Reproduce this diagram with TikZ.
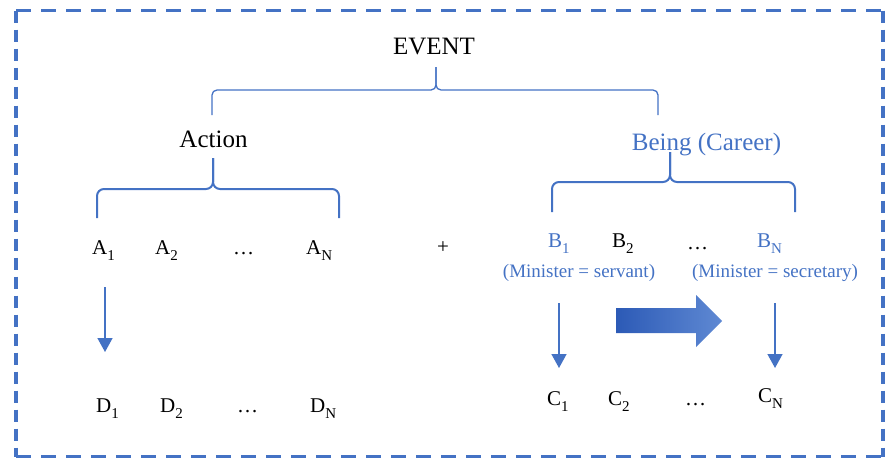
\documentclass[tikz,border=0pt]{standalone}
\usepackage{fontspec}
\setmainfont{Liberation Serif}
\usetikzlibrary{arrows.meta}
\definecolor{ob}{HTML}{4472C4}
\definecolor{bigl}{HTML}{2C5AB6}
\definecolor{bigr}{HTML}{5F89D3}
\newcommand{\lsub}[1]{\raisebox{-6pt}{\fontsize{15}{15}\selectfont #1}}
\begin{document}
\begin{tikzpicture}[x=1pt,y=-1pt,
  big/.style={font=\fontsize{25}{30}\selectfont, inner sep=0pt, anchor=base},
  item/.style={font=\fontsize{21}{25}\selectfont, inner sep=0pt, anchor=base west},
  note/.style={font=\fontsize{19}{23}\selectfont, inner sep=0pt, anchor=base, text=ob},
  brace/.style={draw=ob, line width=2pt, rounded corners=7pt},
  thinbrace/.style={draw=ob, line width=1.3pt, rounded corners=5pt},
  flow/.style={draw=ob, line width=1.5pt, -{Triangle[width=15pt,length=14pt]}},
  border/.style={draw=ob, line width=3.5pt},
]
\useasboundingbox (0,0) rectangle (890,458);
% dashed frame
\coordinate (tl) at (16,10.5);
\coordinate (tr) at (883,10.5);
\coordinate (bl) at (16,456.5);
\coordinate (br) at (883,456.5);
\draw[border, dash pattern=on 15pt off 10pt] (tl) -- (tr);
\draw[border, dash pattern=on 15pt off 10pt] (bl) -- (br);
\draw[border, dash pattern=on 12pt off 7pt] (tl) -- (bl);
\draw[border, dash pattern=on 12pt off 7pt] (tr) -- (br);

% headings
\node[big] (event) at (434,54) {EVENT};
\node[big] (action) at (213.5,147) {Action};
\node[big, text=ob] (being) at (706.5,150) {Being (Career)};

% braces
\draw[thinbrace] (212,115) -- (212,90) -- (436,90) -- (436,67);
\draw[thinbrace] (436,67) -- (436,90) -- (658,90) -- (658,115);
\draw[brace] (97,218) -- (97,189) -- (213,189) -- (213,158);
\draw[brace] (213,158) -- (213,189) -- (339,189) -- (339,218);
\draw[brace] (552,212) -- (552,182) -- (670,182) -- (670,152);
\draw[brace] (670,152) -- (670,182) -- (795,182) -- (795,212);

% A row
\node[item] (a1) at (92,254) {A\lsub{1}};
\node[item] (a2) at (155,254) {A\lsub{2}};
\node[item] (adots) at (233,254) {\ldots};
\node[item] (an) at (306,254) {A\lsub{N}};
\node[item] (plus) at (437,253) {+};

% B row
\node[item, text=ob] (b1) at (548,247) {B\lsub{1}};
\node[item] (b2) at (612,247) {B\lsub{2}};
\node[item] (bdots) at (687,249) {\ldots};
\node[item, text=ob] (bn) at (757,247) {B\lsub{N}};
\node[note] (m1) at (579,277) {(Minister = servant)};
\node[note] (mn) at (775,277) {(Minister = secretary)};

% D row
\node[item] (d1) at (96,412) {D\lsub{1}};
\node[item] (d2) at (160,412) {D\lsub{2}};
\node[item] (ddots) at (237,412) {\ldots};
\node[item] (dn) at (310,412) {D\lsub{N}};

% C row
\node[item] (c1) at (547,405) {C\lsub{1}};
\node[item] (c2) at (608,405) {C\lsub{2}};
\node[item] (cdots) at (685,405) {\ldots};
\node[item] (cn) at (758,402) {C\lsub{N}};

% thin arrows
\coordinate (fa1) at (105,287);
\coordinate (fa2) at (105,352);
\coordinate (fb1) at (559,303);
\coordinate (fb2) at (559,368);
\coordinate (fn1) at (775,303);
\coordinate (fn2) at (775,368);
\draw[flow] (fa1) -- (fa2);
\draw[flow] (fb1) -- (fb2);
\draw[flow] (fn1) -- (fn2);

% big shaded arrow
\shade[left color=bigl, right color=bigr]
  (616,308) -- (696,308) -- (696,295) -- (722,321) -- (696,347) -- (696,333) -- (616,333) -- cycle;
\end{tikzpicture}
\end{document}
